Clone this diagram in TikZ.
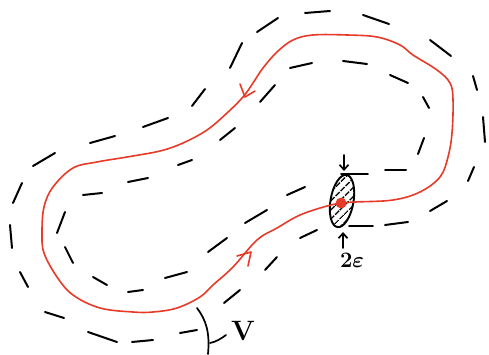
\RequirePackage{fix-cm}
\documentclass[tikz,border=0pt]{standalone}
\usetikzlibrary{patterns.meta,arrows.meta}
\definecolor{loopred}{RGB}{232,58,40}
\tikzset{
  dashseg/.style={line width=2pt, line cap=round},
  redloop/.style={loopred, line width=1.6pt, line cap=round, line join=round},
  inkline/.style={line width=1.7pt, line cap=round},
}
\begin{document}
\begin{tikzpicture}[x=1pt,y=-1pt]
\useasboundingbox (0,0) rectangle (489,355);
% outer dashes
\foreach \a/\b/\c/\d in {305/13/330/11, 363/15/389/24, 430/40/451/56, 473/76/477/90, 483/117/485/142,
  474/167/468/181, 447/201/430/211, 408/222/385/225, 317/230/300/238, 277/257/265/270,
  240/290/224/303, 197/330/180/333, 153/340/132/342, 117/342/88/332, 64/318/45/312,
  28/287/20/272, 12/248/10/225, 13/203/22/183, 33/166/55/153, 90/143/115/136,
  143/127/168/118, 192/106/205/89, 230/68/242/43, 257/32/278/18}
  \draw[dashseg] (\a,\b) -- (\c,\d);
% inner dashes
\foreach \a/\b/\c/\d in {290/68/312/63, 343/61/367/64, 390/75/408/83, 423/97/429/108, 424/138/418/154,
  406/170/385/170, 305/187/287/195, 267/210/245/223, 227/238/208/252, 187/272/165/278,
  143/290/128/292, 107/285/93/277, 73/263/65/247, 57/233/65/212, 83/195/102/193,
  128/182/148/178, 178/165/192/160, 220/140/235/128, 260/102/275/85}
  \draw[dashseg] (\a,\b) -- (\c,\d);
% cross-section
\draw[inkline] (341,174) -- (368,174);
\draw[inkline] (349,226) -- (373,226);
\begin{scope}[rotate around={-10:(342,201)}]
\draw[line width=1.9pt, pattern={Lines[angle=45,distance=6.5pt,line width=1.6pt]}]
  (342,201) ellipse [x radius=11.5, y radius=26.5];
\end{scope}
% red loop
\draw[redloop] plot[smooth, tension=0.6] coordinates {
 (341,203) (355,202) (393,200) (420,192) (440,177) (448,157) (452,133) (453,100) (450,83)
 (437,70) (413,55) (400,45) (377,37) (347,35) (313,35) (293,40) (277,52) (263,68) (253,83)
 (243,97) (227,113) (207,130) (183,143) (160,151) (127,157) (97,162) (73,168) (53,187)
 (44,207) (42,233) (44,253) (57,277) (73,295) (100,308) (133,312) (153,312) (177,308)
 (200,297) (213,285) (233,267) (257,240) (277,228) (300,215) (327,206) (341,203)};
\draw[redloop] (240,84) -- (245,97) -- (255,91);
\draw[redloop] (237,256) -- (251,252) -- (248,266);
\fill[loopred] (341,203) circle (5.4);
% width arrows
\coordinate (ta) at (344,155); \coordinate (tb) at (344,171);
\coordinate (ba) at (343,248); \coordinate (bb) at (343,232);
\draw[inkline, -{Straight Barb[length=5pt,width=9pt]}] (ta) -- (tb);
\draw[inkline, -{Straight Barb[length=5pt,width=9pt]}] (ba) -- (bb);
\node[font=\fontsize{22}{22}\selectfont\boldmath] (eps) at (352,260) {$2\varepsilon$};
% V bracket
\draw[inkline] (197,308) .. controls (206,320) and (210,332) .. (208,354);
\draw[inkline] (210,343) .. controls (216,342) and (222,338) .. (226,335);
\node[font=\fontsize{28}{28}\selectfont\bfseries] (V) at (243,331) {V};
\end{tikzpicture}
\end{document}
